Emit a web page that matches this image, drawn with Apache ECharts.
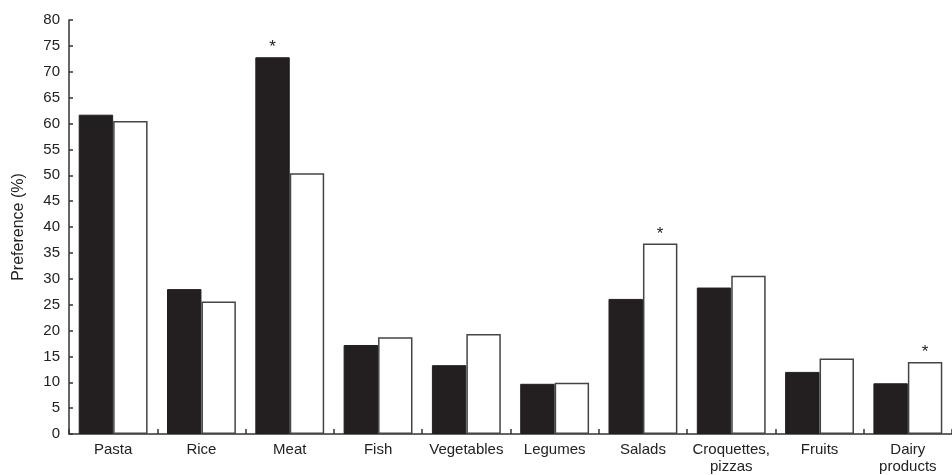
<!DOCTYPE html>
<html>
<head>
<meta charset="utf-8">
<script src="https://cdn.jsdelivr.net/npm/echarts@6/dist/echarts.min.js"></script>
<style>html,body{margin:0;padding:0;background:#fff;}#c{width:952px;height:475px;}</style>
</head>
<body>
<div id="c"></div>
<script>
const categories = ['Pasta', 'Rice', 'Meat', 'Fish', 'Vegetables', 'Legumes', 'Salads', 'Croquettes,\npizzas', 'Fruits', 'Dairy\nproducts'];
const blackValues = [61.7, 28.0, 72.8, 17.2, 13.3, 9.7, 26.1, 28.3, 12.0, 9.8];
const whiteValues = [60.5, 25.6, 50.4, 18.7, 19.3, 9.9, 36.8, 30.6, 14.6, 13.9];
const blackSignificant = [false, false, true, false, false, false, false, false, false, false];
const whiteSignificant = [false, false, false, false, false, false, true, false, false, true];
const yTicks = [0, 5, 10, 15, 20, 25, 30, 35, 40, 45, 50, 55, 60, 65, 70, 75, 80];

function withStars(values, flags) {
  return values.map((v, i) => ({
    value: v,
    label: { show: flags[i], formatter: '*' }
  }));
}

const chart = echarts.init(document.getElementById('c'), null, { renderer: 'canvas' });
const font = 'Liberation Sans, Arial, Helvetica, sans-serif';
chart.setOption({
  animation: false,
  backgroundColor: '#fff',
  grid: { left: 69, top: 20, width: 890, bottom: 41, containLabel: false },
  xAxis: {
    type: 'category',
    data: categories,
    axisLine: { lineStyle: { color: '#333', width: 1.5 } },
    axisTick: { show: true, inside: true, length: 5, lineStyle: { color: '#333', width: 1.5 } },
    axisLabel: { color: '#222', fontSize: 15, fontFamily: font, margin: 7, lineHeight: 17, interval: 0 }
  },
  yAxis: {
    type: 'value',
    min: yTicks[0],
    max: yTicks[yTicks.length - 1],
    interval: 5,
    name: 'Preference (%)',
    nameLocation: 'middle',
    nameGap: 42,
    nameTextStyle: { color: '#222', fontSize: 16, fontFamily: font },
    splitLine: { show: false },
    axisLine: { show: true, lineStyle: { color: '#333', width: 1.5 } },
    axisTick: { show: true, inside: true, length: 4, lineStyle: { color: '#333', width: 1.5 } },
    axisLabel: { color: '#222', fontSize: 15, fontFamily: font, margin: 9 }
  },
  series: [
    {
      type: 'bar',
      data: withStars(blackValues, blackSignificant),
      barGap: '0%',
      barCategoryGap: '22%',
      itemStyle: { color: '#231f20', borderColor: '#231f20', borderWidth: 1 },
      label: { position: 'top', distance: 1, color: '#222', fontSize: 17, fontFamily: font }
    },
    {
      type: 'bar',
      data: withStars(whiteValues, whiteSignificant),
      barGap: '0%',
      barCategoryGap: '22%',
      itemStyle: { color: '#fff', borderColor: '#444', borderWidth: 1.5 },
      label: { position: 'top', distance: 1, color: '#222', fontSize: 17, fontFamily: font }
    }
  ]
});
</script>
</body>
</html>
